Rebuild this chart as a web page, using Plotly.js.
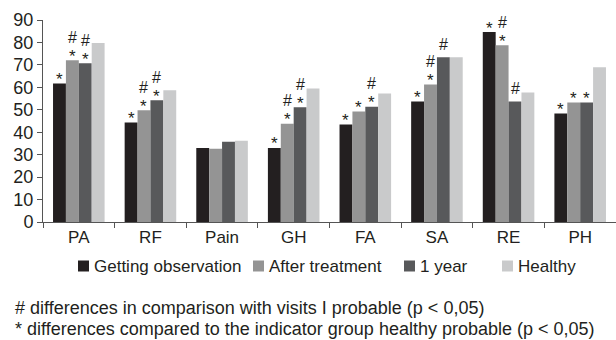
<!DOCTYPE html>
<html>
<head>
<meta charset="utf-8">
<script src="https://cdn.plot.ly/plotly-3.0.1.min.js"></script>
<style>html,body{margin:0;padding:0;background:#fff;}#chart{width:616px;height:340px;}</style>
</head>
<body>
<div id="chart"></div>
<script>
var categories = ["PA", "RF", "Pain", "GH", "FA", "SA", "RE", "PH"];
var seriesNames = ["Getting observation", "After treatment", "1 year", "Healthy"];
var gettingObservation = [61.7, 44.3, 33.0, 33.0, 43.4, 53.7, 84.6, 48.3];
var afterTreatment     = [72.1, 49.8, 32.6, 43.8, 49.2, 61.3, 78.8, 53.2];
var oneYear            = [70.7, 54.3, 35.7, 51.1, 51.3, 73.4, 53.7, 53.2];
var healthy            = [79.8, 58.7, 36.2, 59.5, 57.3, 73.4, 57.7, 68.9];
// significance marks: "*" vs healthy, "#" vs first visit
var marksObservation = ["*", "*", "", "*", "*", "*", "*", "*"];
var marksAfter       = ["#*", "#*", "", "#*", "*", "#*", "#*", "*"];
var marksOneYear     = ["#*", "#*", "", "#*", "#*", "#", "#", "*"];
var marksHealthy     = ["", "", "", "", "", "", "", ""];
var yTicks = [0, 10, 20, 30, 40, 50, 60, 70, 80, 90];
var footnotes = [
  "# differences in comparison with visits I probable (p < 0,05)",
  "* differences compared to the indicator group healthy probable (p < 0,05)"
];

var colors = ["#231f20", "#949494", "#58595b", "#c9cacb"];
var values = [gettingObservation, afterTreatment, oneYear, healthy];
var marks = [marksObservation, marksAfter, marksOneYear, marksHealthy];
var FONT = "Liberation Sans, Arial, Helvetica, sans-serif";
var bargap = 0.28;

var traces = values.map(function (v, i) {
  return {
    type: "bar", name: seriesNames[i], x: categories, y: v,
    marker: {color: colors[i], line: {width: 0}},
    showlegend: false, hoverinfo: "skip"
  };
});

var annotations = [];
var bw = (1 - bargap) / 4;
marks.forEach(function (m, s) {
  m.forEach(function (txt, c) {
    if (!txt) return;
    var xpos = c - (1 - bargap) / 2 + (s + 0.5) * bw;
    var hasStar = txt.indexOf("*") >= 0;
    var hasHash = txt.indexOf("#") >= 0;
    if (hasStar) {
      annotations.push({xref: "x", yref: "y", x: xpos, y: values[s][c], text: "*",
        showarrow: false, yanchor: "middle", xanchor: "center", yshift: 4,
        font: {family: FONT, size: 17, color: "#231f20"}});
    }
    if (hasHash) {
      annotations.push({xref: "x", yref: "y", x: xpos, y: values[s][c], text: "#",
        showarrow: false, yanchor: "middle", xanchor: "center", yshift: hasStar ? 23 : 13,
        font: {family: FONT, size: 16, color: "#231f20"}});
    }
  });
});

// plot geometry helpers (paper coords from pixel positions)
var mL = 43, mR = 0, mT = 20, mB = 118, W = 616, H = 340;
var pw = W - mL - mR, ph = H - mT - mB;
function px2x(px) { return (px - mL) / pw; }
function py2y(py) { return (H - mB - py) / ph; }

// legend built from series names / colors
var legendSquareX = [78, 253, 404, 502];
var legendY = 266, sq = 11;
var shapes = [];
seriesNames.forEach(function (n, i) {
  shapes.push({type: "rect", xref: "paper", yref: "paper",
    x0: px2x(legendSquareX[i]), x1: px2x(legendSquareX[i] + sq),
    y0: py2y(legendY + sq / 2), y1: py2y(legendY - sq / 2),
    fillcolor: colors[i], line: {width: 0}});
  annotations.push({xref: "paper", yref: "paper", x: px2x(legendSquareX[i] + sq + 3), y: py2y(legendY),
    text: n, showarrow: false, xanchor: "left", yanchor: "middle",
    font: {family: FONT, size: 17, color: "#231f20"}});
});
footnotes.forEach(function (t, i) {
  annotations.push({xref: "paper", yref: "paper", x: px2x(14), y: py2y(308 + i * 21),
    text: t, showarrow: false, xanchor: "left", yanchor: "middle", borderpad: 0,
    font: {family: FONT, size: 18, color: "#231f20"}});
});

var layout = {
  width: W, height: H,
  margin: {l: mL, r: mR, t: mT, b: mB, pad: 0},
  paper_bgcolor: "#fff", plot_bgcolor: "#fff",
  barmode: "group", bargap: bargap, bargroupgap: 0,
  showlegend: false,
  font: {family: FONT, size: 17, color: "#231f20"},
  xaxis: {type: "category", showline: true, linecolor: "#555", linewidth: 1,
    ticks: "outside", tickson: "boundaries", ticklen: 5, tickcolor: "#555",
    showgrid: false, zeroline: false, tickfont: {family: FONT, size: 17, color: "#231f20"}},
  yaxis: {range: [0, 90], tickvals: yTicks, showline: true, linecolor: "#555", linewidth: 1,
    ticks: "outside", ticklen: 5, tickcolor: "#555", showgrid: false, zeroline: false,
    tickfont: {family: FONT, size: 18, color: "#231f20"}},
  annotations: annotations,
  shapes: shapes
};

Plotly.newPlot("chart", traces, layout, {staticPlot: true, displayModeBar: false});
</script>
</body>
</html>
